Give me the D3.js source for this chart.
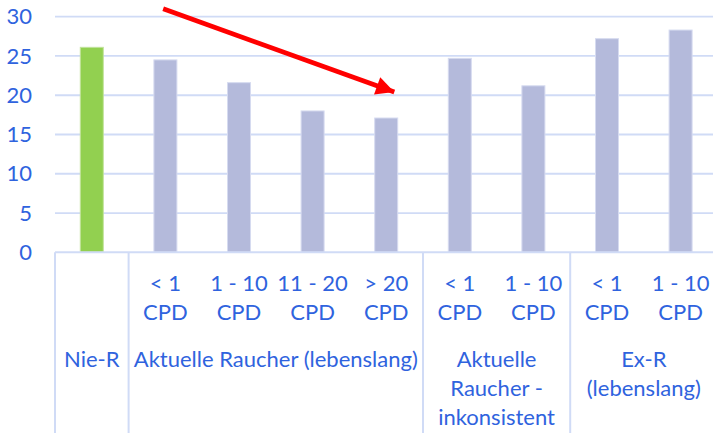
<!DOCTYPE html>
<html>
<head>
<meta charset="utf-8">
<script src="https://cdn.jsdelivr.net/npm/d3@7"></script>
<style>
  html, body { margin: 0; padding: 0; background: #fff; }
  svg { display: block; }
  text { font-family: Lato, "Open Sans", sans-serif; fill: #2f63de; }
</style>
</head>
<body>
<svg id="chart" width="713" height="433"></svg>
<script>
// ---- data ----
const values = [26.1, 24.5, 21.6, 18.0, 17.1, 24.7, 21.2, 27.2, 28.3];
const subLabels = [
  [],
  ["< 1", "CPD"],
  ["1 - 10", "CPD"],
  ["11 - 20", "CPD"],
  ["> 20", "CPD"],
  ["< 1", "CPD"],
  ["1 - 10", "CPD"],
  ["< 1", "CPD"],
  ["1 - 10", "CPD"]
];
const groupLabels = [
  ["Nie-R"],
  ["Aktuelle Raucher (lebenslang)"],
  ["Aktuelle", "Raucher -", "inkonsistent"],
  ["Ex-R", "(lebenslang)"]
];
const groupSizes = [1, 4, 2, 2];
const barColors = ["#92d050", "#b4badb", "#b4badb", "#b4badb", "#b4badb", "#b4badb", "#b4badb", "#b4badb", "#b4badb"];
const yTicks = [0, 5, 10, 15, 20, 25, 30];
// annotation arrow: fractional category index and value
const arrowFrom = { i: 0.97, v: 31.0 };
const arrowTo = { i: 4.11, v: 20.4 };

// ---- layout ----
const svg = d3.select("#chart");
const mLeft = 55, mRight = 717.4, mTop = 16.7, mBottom = 252.3;
const x = d3.scaleBand().domain(d3.range(values.length)).range([mLeft, mRight]).padding(0);
const y = d3.scaleLinear().domain([0, 30]).range([mBottom, mTop]);
const step = x.step();
const barW = 23;
const posX = i => mLeft + (i + 0.5) * step;
const gridColor = "#d0dbf6";
const blue = "#2f63de";
const fs = 22;

// gridlines
svg.append("g").selectAll("line").data(yTicks.filter(t => t > 0)).join("line")
  .attr("x1", mLeft).attr("x2", mRight)
  .attr("y1", d => y(d)).attr("y2", d => y(d))
  .attr("stroke", gridColor).attr("stroke-width", 1.8);

// y axis labels
const yAxis = d3.axisLeft(y).tickValues(yTicks).tickSize(0).tickPadding(0);
const ya = svg.append("g").attr("transform", `translate(32,0)`).call(yAxis);
ya.select(".domain").remove();
ya.selectAll("text").attr("font-size", fs).attr("fill", blue)
  .style("font-family", "Lato, 'Open Sans', sans-serif");

// bars
svg.append("g").selectAll("rect").data(values).join("rect")
  .attr("x", (d, i) => x(i) + step / 2 - barW / 2)
  .attr("width", barW)
  .attr("y", d => y(d))
  .attr("height", d => y(0) - y(d))
  .attr("fill", (d, i) => barColors[i])
  .attr("stroke", (d, i) => i === 0 ? "#c2e39c" : "#d6dbf0")
  .attr("stroke-width", 1);

// category axis line
svg.append("line").attr("x1", mLeft).attr("x2", mRight)
  .attr("y1", mBottom).attr("y2", mBottom)
  .attr("stroke", gridColor).attr("stroke-width", 2);

// group separators
const bounds = [0];
groupSizes.forEach(s => bounds.push(bounds[bounds.length - 1] + s));
svg.append("g").selectAll("line").data(bounds).join("line")
  .attr("x1", d => mLeft + d * step).attr("x2", d => mLeft + d * step)
  .attr("y1", mBottom).attr("y2", 433)
  .attr("stroke", gridColor).attr("stroke-width", 2);

// sub labels
const sub = svg.append("g");
subLabels.forEach((lines, i) => {
  lines.forEach((t, k) => {
    sub.append("text").attr("x", posX(i)).attr("y", 291 + k * 29)
      .attr("text-anchor", "middle").attr("font-size", fs).text(t);
  });
});

// group labels
const grp = svg.append("g");
groupLabels.forEach((lines, g) => {
  const cx = mLeft + (bounds[g] + bounds[g + 1]) / 2 * step;
  lines.forEach((t, k) => {
    grp.append("text").attr("x", cx).attr("y", 367 + k * 29)
      .attr("text-anchor", "middle").attr("font-size", fs).text(t);
  });
});

// arrow
const defs = svg.append("defs");
defs.append("marker").attr("id", "ah").attr("viewBox", "0 0 10 10")
  .attr("refX", 10).attr("refY", 5).attr("markerWidth", 4).attr("markerHeight", 3.8)
  .attr("markerUnits", "strokeWidth").attr("orient", "auto")
  .append("path").attr("d", "M0,0 L10,5 L0,10 z").attr("fill", "#ff0000");
svg.append("line")
  .attr("x1", posX(arrowFrom.i)).attr("y1", y(arrowFrom.v))
  .attr("x2", posX(arrowTo.i)).attr("y2", y(arrowTo.v))
  .attr("stroke", "#ff0000").attr("stroke-width", 4.8)
  .attr("marker-end", "url(#ah)");
</script>
</body>
</html>
